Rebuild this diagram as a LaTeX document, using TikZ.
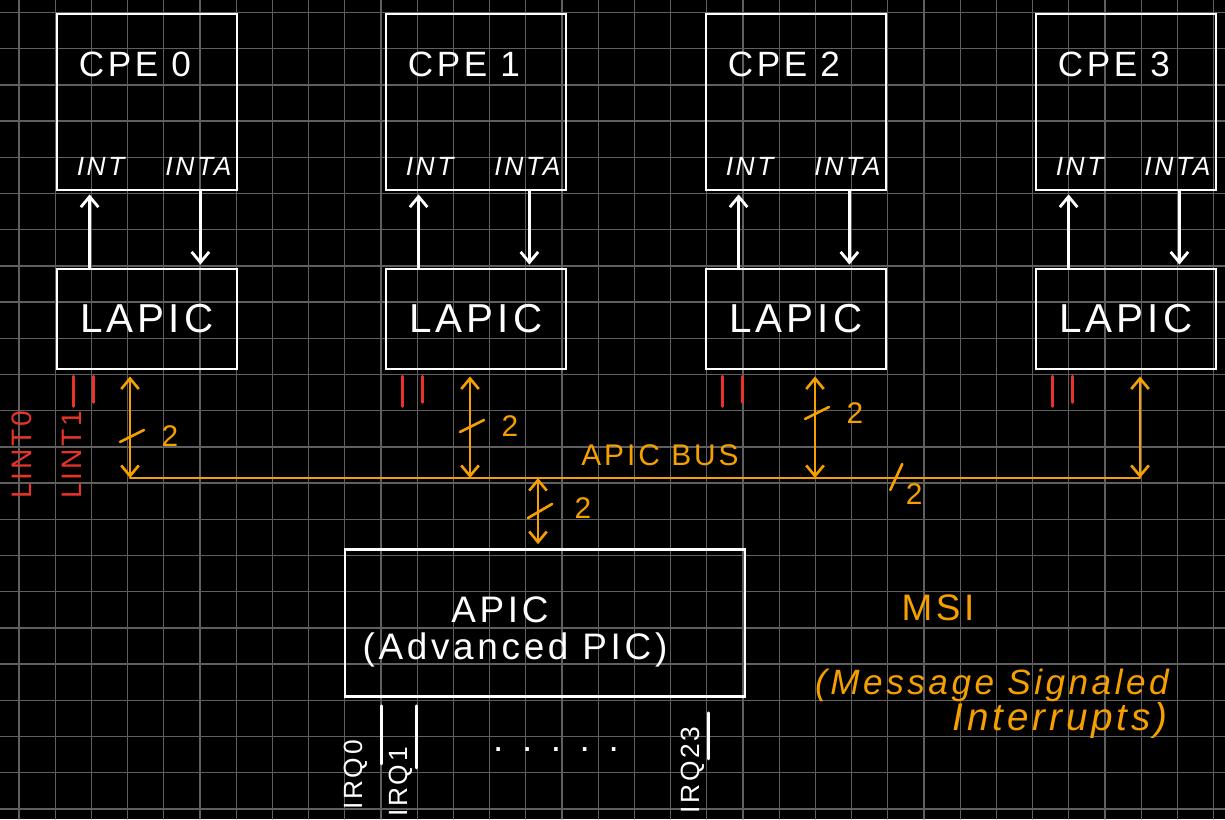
\documentclass[tikz,border=0pt]{standalone}
\usepackage{fontspec}
\setmainfont{Liberation Sans}
\newfontfamily\handfont[LetterSpace=10]{Liberation Sans}
\usetikzlibrary{arrows.meta,calc,positioning}

\definecolor{busorange}{RGB}{245,160,0}
\definecolor{lintred}{RGB}{232,52,40}
\definecolor{gridgray}{RGB}{95,95,95}

\tikzset{
  gridline/.style={gridgray,line width=0.7pt},
  wire/.style={white,line width=1.6pt},
  bus/.style={busorange,line width=1.5pt},
  lintmark/.style={lintred,line width=1.6pt},
  hbox/.style={draw=white,line width=1.6pt,text=white},
  cpebox/.style={hbox,minimum width=3.6cm,minimum height=3.52cm},
  lapicbox/.style={hbox,minimum width=3.6cm,minimum height=2cm,font=\handfont\fontsize{23}{27}\selectfont},
  apicbox/.style={hbox,minimum width=8cm,minimum height=2.94cm},
  cpetext/.style={text=white,font=\handfont\fontsize{20}{24}\selectfont},
  pintext/.style={text=white,font=\handfont\itshape\fontsize{15}{18}\selectfont},
  irqtext/.style={text=white,rotate=90,font=\handfont\fontsize{15}{18}\selectfont},
  apictext/.style={text=white,font=\handfont\fontsize{21}{25}\selectfont},
  bustext/.style={text=busorange,font=\handfont\fontsize{17}{20}\selectfont},
  linttext/.style={text=lintred,rotate=90,font=\handfont\fontsize{16}{19}\selectfont},
  msitext/.style={text=busorange,font=\handfont\itshape\fontsize{20}{24}\selectfont}
}

\begin{document}
\begin{tikzpicture}[x=0.02cm,y=-0.02cm,>={Straight Barb[length=6pt,width=10pt]},line cap=round]
\useasboundingbox (0,0) rectangle (1225,819);
\fill[black] (0,0) rectangle (1225,819);
\foreach \k in {0,...,33} \draw[gridline] ({19+36.2*\k},0) -- ({19+36.2*\k},819);
\foreach \k in {0,...,22} \draw[gridline] (0,{12.5+36.2*\k}) -- (1225,{12.5+36.2*\k});

\foreach \i/\cx/\bx in {0/147/130,1/476/470,2/796/815,3/1126/1140} {
  \node[cpebox] (cpe\i) at (\cx,102) {};
  \node[cpetext] (cpename\i) at ($(cpe\i.north)+(-12,52)$) {CPE \i};
  \node[pintext] (int\i) at ($(cpe\i.south west)+(45,-25)$) {INT};
  \node[pintext] (inta\i) at ($(cpe\i.south east)+(-40,-25)$) {INTA};
  \node[lapicbox] (lapic\i) at (\cx,319) {LAPIC};
  \draw[wire,->] ($(lapic\i.north west)+(34,0)$) -- ($(cpe\i.south west)+(34,3)$);
  \draw[wire,->] ($(cpe\i.south east)+(-38,0)$) -- ($(lapic\i.north east)+(-38,-3)$);
  \draw[lintmark] ($(lapic\i.south west)+(18,6)$) -- +(0,30);
  \draw[lintmark] ($(lapic\i.south west)+(38,6)$) -- +(0,26);
  \coordinate (bus\i) at (\bx,478);
  \draw[bus,<->] ($(bus\i |- lapic\i.south)+(0,6)$) -- (bus\i);
}
\foreach \i/\h in {0/42,1/52,2/65} {
  \draw[bus] ($(bus\i)+(-10,-\h+6)$) -- ($(bus\i)+(14,-\h-6)$);
  \node[bustext] (two\i) at ($(bus\i)+(40,-\h)$) {2};
}
\draw[bus] (bus0) -- (bus3);
\coordinate (busslash) at ($(bus2)!0.25!(bus3)$);
\draw[bus] ($(busslash)+(-6,12)$) -- ($(busslash)+(6,-14)$);
\node[bustext] (twobus) at ($(busslash)+(18,16)$) {2};
\node[bustext] (busname) at (660,455) {APIC BUS};

\node[linttext] (lint0) at (22,455) {LINT0};
\node[linttext] (lint1) at (72,455) {LINT1};

\node[apicbox] (apic) at (545,623) {};
\node[apictext] (apicname) at (500,610) {APIC};
\node[apictext] (apicfull) at (515,650) {(Advanced PIC)};
\coordinate (busapic) at (538,478);
\draw[bus,<->] (busapic) -- ($(busapic |- apic.north)+(0,-4)$);
\draw[bus] ($(busapic)+(-10,40)$) -- ($(busapic)+(14,26)$);
\node[bustext] (twoapic) at (583,508) {2};

\draw[wire] ($(apic.south west)+(38,8)$) -- +(0,58);
\draw[wire] ($(apic.south west)+(73,8)$) -- +(0,62);
\draw[wire] ($(apic.south west)+(365,15)$) -- +(0,46);
\node[irqtext] (irq0) at (356,775) {IRQ0};
\node[irqtext] (irq1) at (401,782) {IRQ1};
\node[irqtext] (irq23) at (693,770) {IRQ23};
\node[apictext] (dots) at (556,750) {. . . . .};

\node[msitext,font=\handfont\fontsize{21}{25}\selectfont] (msi) at (938,608) {MSI};
\node[msitext] (msifull) at (992,685) {(Message Signaled};
\node[msitext,font=\handfont\itshape\fontsize{22}{26}\selectfont] (msiint) at (1060,720) {Interrupts)};
\end{tikzpicture}
\end{document}
